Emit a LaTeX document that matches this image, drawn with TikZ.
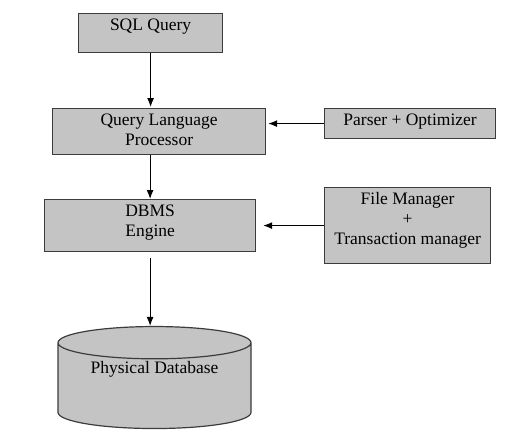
\documentclass[tikz,border=0pt]{standalone}
\usepackage{fontspec}
\setmainfont{Liberation Serif}
\usepackage {tikz}
\usetikzlibrary {positioning}
\usetikzlibrary{shapes,arrows,arrows.meta}
\definecolor{boxgray}{RGB}{196,196,196}
\definecolor{edgegray}{RGB}{60,60,60}
\tikzstyle{block} = [rectangle, draw=edgegray, fill=boxgray, line width=1.2pt,
    anchor=north west, align=center, inner ysep=5pt, text height=12pt,
    font=\fontsize{17.5}{20}\selectfont]
\tikzstyle{store} = [cylinder, shape border rotate=90, draw=edgegray, fill=boxgray,
    line width=1.2pt, aspect=0.24, minimum width=193pt, minimum height=102pt,
    text height=12pt, text depth=16pt, font=\fontsize{17.5}{20}\selectfont]
\tikzstyle{line} = [draw, line width=1.1pt, -{Latex[length=9pt,width=7pt]}]

\begin{document}
\begin{tikzpicture}[x=1pt, y=-1pt]
    \useasboundingbox (0,0) rectangle (528,440);
    % Place nodes
    \node [block, minimum width=144pt, text depth=17pt] (sql) at (78,13) {SQL Query};
    \node [block, minimum width=213pt, text height=32pt, text depth=4pt] (qlp) at (52,108) {Query Language\\Processor};
    \node [block, minimum width=171pt, text depth=8pt] (parser) at (324,108) {Parser + Optimizer};
    \node [block, minimum width=211pt, text height=32pt, text depth=10pt] (dbms) at (44,199) {DBMS\\Engine};
    \node [block, minimum width=166pt, text height=52pt, text depth=14pt] (filemgr) at (324,187) {File Manager\\+\\Transaction manager};
    \node [store] (phys) at (154.5,388) {\raisebox{13pt}{Physical Database}};

    % Draw edges
    \path [line, shorten >=1pt] (sql.south) -- (sql.south |- qlp.north);
    \path [line] (dbms.north |- qlp.south) -- (dbms.north);
    \path [line, shorten >=2pt] (parser.west) -- (parser.west -| qlp.east);
    \path [line, shorten >=7pt] (filemgr.west) -- (filemgr.west -| dbms.east);
    \path [line, shorten <=6pt] (dbms.south) -- (dbms.south |- phys.north);
\end{tikzpicture}
\end{document}
